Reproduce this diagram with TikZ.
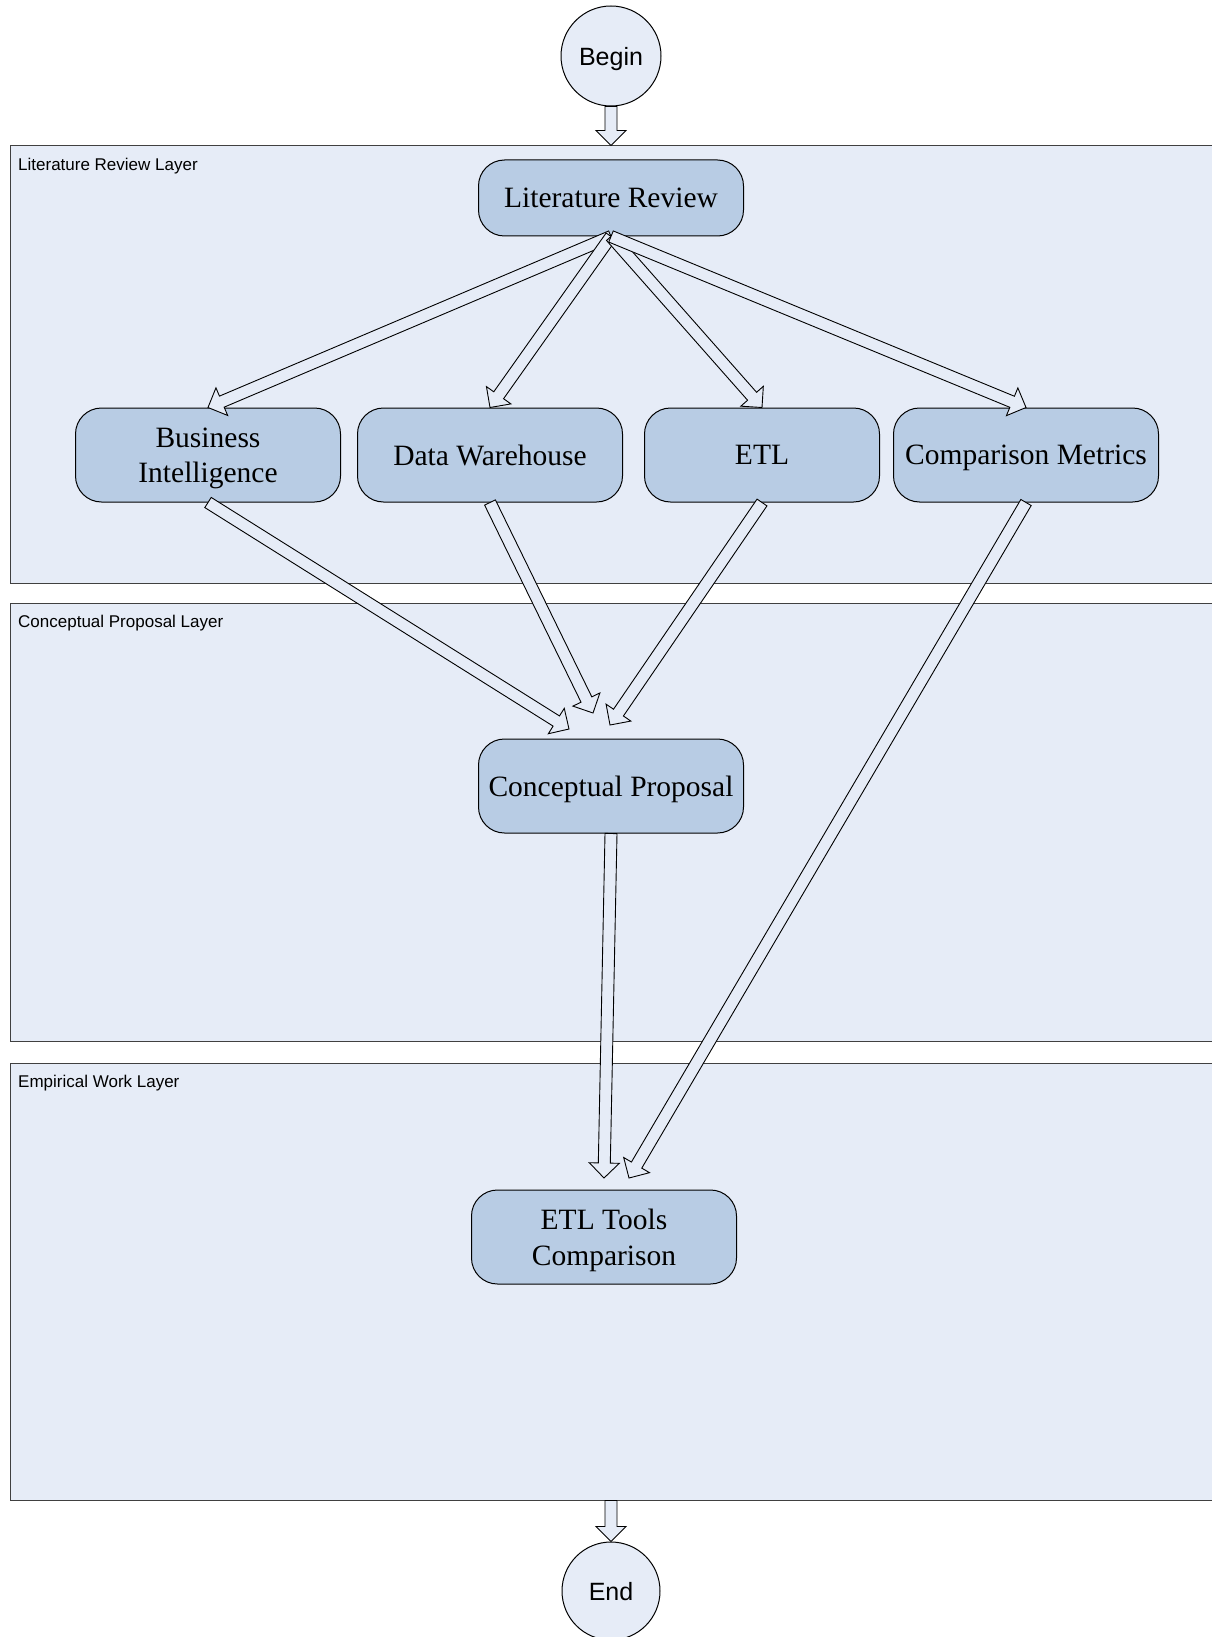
\documentclass[tikz,border=0pt]{standalone}
\usepackage{fontspec}
\setmainfont{Liberation Serif}
\setsansfont{Liberation Sans}
\usepackage{tikz}
\usetikzlibrary{calc,shapes}

\definecolor{boxfill}{HTML}{B8CCE4}
\definecolor{layerfill}{HTML}{E6ECF7}
\definecolor{layerline}{HTML}{404040}

% wide hollow arrow from #1 to #2
\newcommand{\hollowarrow}[2]{%
  \coordinate (ha-s) at (#1);
  \coordinate (ha-t) at (#2);
  \coordinate (ha-h) at ($(ha-t)!15pt!(ha-s)$);
  \draw[harrow] ($(ha-s)!6pt!90:(ha-t)$) -- ($(ha-h)!6pt!-90:(ha-s)$)
    -- ($(ha-h)!15pt!-90:(ha-s)$) -- (ha-t) -- ($(ha-h)!15pt!90:(ha-s)$)
    -- ($(ha-h)!6pt!90:(ha-s)$) -- ($(ha-s)!6pt!-90:(ha-t)$) -- cycle;
}

\begin{document}
\begin{tikzpicture}[x=1pt,y=-1pt,
    proc/.style={draw=black,line width=1pt,fill=boxfill,rounded corners=26pt,minimum width=265pt,minimum height=94pt,align=center,inner sep=2pt,text depth=0pt,font=\fontsize{29.5}{35.5}\selectfont},
    term/.style={circle,draw=black,line width=1pt,fill=layerfill,inner sep=0pt,text depth=0pt,font=\sffamily\fontsize{25}{30}\selectfont},
    layer/.style={draw=layerline,line width=1pt,fill=layerfill,minimum width=1215pt,minimum height=437pt,inner sep=0pt},
    lbl/.style={anchor=west,inner sep=0pt,font=\sffamily\fontsize{17}{20}\selectfont},
    harrow/.style={draw=black,fill=layerfill,line width=0.9pt,line join=miter}]
    \useasboundingbox (0,0) rectangle (1211,1637);

    % layers
    \node[layer] (litlayer) at (617.5,364.5) {};
    \node[layer,minimum height=438pt] (conlayer) at (617.5,822) {};
    \node[layer] (emplayer) at (617.5,1281.5) {};
    \node[lbl] (litlbl) at (18,166) {Literature Review Layer};
    \node[lbl] (conlbl) at (18,623) {Conceptual Proposal Layer};
    \node[lbl] (emplbl) at (18,1083) {Empirical Work Layer};

    % steps
    \node[term,minimum size=100pt] (begin) at (611,56) {Begin};
    \node[term,minimum size=98pt]  (end)   at (611,1591) {End};

    \node[proc,minimum height=76pt] (lit) at (611,198)  {Literature Review};
    \node[proc]                     (bi)  at (208,455)  {Business\\Intelligence};
    \node[proc]                     (dw)  at (490,455)  {Data Warehouse};
    \node[proc,minimum width=235pt] (etl) at (762,455)  {ETL};
    \node[proc]                     (cm)  at (1026,455) {Comparison Metrics};
    \node[proc]                     (cp)  at (611,786)  {Conceptual Proposal};
    \node[proc]                     (etltools) at (604,1237) {ETL Tools\\Comparison};

    \coordinate (cpin-bi)  at (569,729);
    \coordinate (cpin-dw)  at (593,713);
    \coordinate (cpin-etl) at (610,725);
    \coordinate (toolsin-cp) at (604,1178);
    \coordinate (toolsin-cm) at (629,1178);

    % connectors
    \hollowarrow{begin.south}{begin |- litlayer.north}
    \hollowarrow{lit.south}{bi.north}
    \hollowarrow{lit.south}{dw.north}
    \hollowarrow{lit.south}{etl.north}
    \hollowarrow{lit.south}{cm.north}
    \hollowarrow{bi.south}{cpin-bi}
    \hollowarrow{dw.south}{cpin-dw}
    \hollowarrow{etl.south}{cpin-etl}
    \hollowarrow{cp.south}{toolsin-cp}
    \hollowarrow{cm.south}{toolsin-cm}
    \hollowarrow{end |- emplayer.south}{end.north}
\end{tikzpicture}
\end{document}
